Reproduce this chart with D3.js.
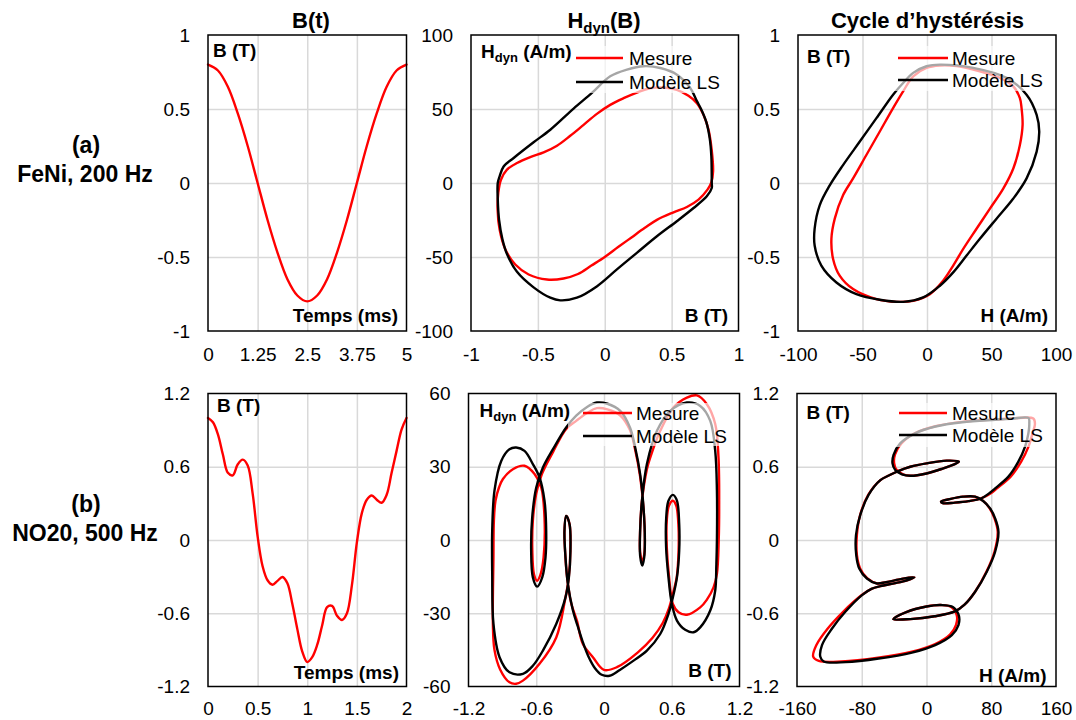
<!DOCTYPE html>
<html><head><meta charset="utf-8">
<script src="https://cdn.jsdelivr.net/npm/d3@7/dist/d3.min.js"></script>
<style>html,body{margin:0;padding:0;background:#fff}svg{display:block}</style>
</head><body>
<svg id="c" width="1076" height="720"></svg>
<script>
// ================= DATA =================
// (a) FeNi, 200 Hz
const feTime = [0,0.25,0.5,0.75,1,1.25,1.5,1.75,2,2.25,2.5,2.75,3,3.25,3.5,3.75,4,4.25,4.5,4.75,5];
const feB = [0.80,0.76,0.65,0.47,0.25,0.00,-0.25,-0.47,-0.65,-0.76,-0.80,-0.76,-0.65,-0.47,-0.25,0.00,0.25,0.47,0.65,0.76,0.80];
// H_dyn(B): [B (T), H (A/m)]
const feHdynMesure = [[0.81,8],[0.80,22],[0.776,36],[0.738,46.1],[0.689,53.9],[0.626,58.9],[0.539,62.9],[0.44,64.5],[0.34,64],[0.24,61.1],[0.141,57.3],[0.041,52.8],[-0.059,46.7],[-0.158,39.3],[-0.258,31.9],[-0.357,25.2],[-0.457,20.7],[-0.557,17.5],[-0.656,13.5],[-0.731,9],[-0.776,2.2],[-0.796,-6.7],[-0.801,-18],[-0.786,-31.5],[-0.743,-44.9],[-0.669,-55.1],[-0.569,-61.8],[-0.432,-65.2],[-0.308,-64.5],[-0.2,-61.5],[-0.1,-55.8],[0.0,-50],[0.1,-43.3],[0.2,-36.8],[0.3,-30.3],[0.39,-24.9],[0.514,-19.8],[0.614,-16.2],[0.701,-11.2],[0.768,-4.5],[0.797,0.5]];
const feHdynModele = [[0.80,0],[0.797,18],[0.785,30],[0.76,41],[0.72,50],[0.689,55.3],[0.639,64.2],[0.54,73.2],[0.415,77.7],[0.29,78.9],[0.166,76.6],[0.041,72.1],[-0.096,60.9],[-0.233,50.3],[-0.407,36],[-0.532,27.5],[-0.681,16.9],[-0.756,11.2],[-0.786,4.5],[-0.80,0],[-0.80,-11],[-0.79,-25],[-0.765,-38],[-0.731,-48],[-0.656,-60],[-0.532,-70.5],[-0.407,-77.5],[-0.333,-79.3],[-0.208,-77.5],[-0.057,-69.7],[0.091,-58.4],[0.24,-47.2],[0.39,-36],[0.539,-25.8],[0.664,-16.9],[0.763,-9],[0.80,-3.4]];
// Cycle d'hystérésis: [H (A/m), B (T)]
const feCycleMesure = [[10,0.794],[22.9,0.79],[35.8,0.767],[56.5,0.71],[66.9,0.653],[72,0.574],[73.3,0.506],[74.1,0.393],[72,0.257],[66.9,0.098],[59.1,-0.038],[48.8,-0.173],[38.4,-0.309],[28.1,-0.445],[20.3,-0.558],[12.5,-0.66],[2.2,-0.751],[-10.7,-0.796],[-23.7,-0.803],[-39.2,-0.785],[-57.3,-0.717],[-67.7,-0.626],[-72.8,-0.513],[-74.1,-0.377],[-71.5,-0.241],[-65.1,-0.083],[-57.3,0.031],[-47,0.189],[-36.6,0.348],[-26.3,0.506],[-18.5,0.619],[-10.7,0.721],[-0.4,0.778]];
const feCycleModele = [[10,0.80],[35.8,0.778],[61.7,0.71],[77.2,0.597],[85,0.461],[87,0.348],[85,0.212],[77.2,0.031],[66.9,-0.105],[53.9,-0.241],[41,-0.377],[30.7,-0.49],[20.3,-0.604],[10,-0.694],[-3,-0.773],[-18.5,-0.803],[-36.6,-0.789],[-54.7,-0.751],[-70.2,-0.672],[-81.9,-0.558],[-87.1,-0.422],[-87.1,-0.309],[-83.2,-0.151],[-75.4,-0.016],[-65.1,0.121],[-52.1,0.28],[-39.2,0.438],[-26.3,0.597],[-18.5,0.676],[-10.7,0.744],[-0.4,0.789]];

// (b) NO20, 500 Hz
const noTime = [0,0.05,0.1,0.15,0.2,0.25,0.3,0.35,0.4,0.45,0.5,0.55,0.6,0.65,0.7,0.75,0.8,0.85,0.9,0.95,1,1.05,1.1,1.15,1.2,1.25,1.3,1.35,1.4,1.45,1.5,1.55,1.6,1.65,1.7,1.75,1.8,1.85,1.9,1.95,2];
const noB = [1.00,0.965,0.865,0.70,0.55,0.53,0.62,0.658,0.61,0.38,0.03,-0.215,-0.33,-0.366,-0.335,-0.303,-0.355,-0.525,-0.73,-0.915,-1.00,-0.96,-0.86,-0.70,-0.55,-0.54,-0.62,-0.655,-0.60,-0.37,-0.02,0.22,0.33,0.365,0.33,0.305,0.37,0.55,0.73,0.905,1.00];
const noHdynMesure = [[1.016,0],[1.0,-13.9],[0.97,-19.4],[0.91,-24.5],[0.852,-27.6],[0.734,-30.6],[0.66,-29.6],[0.61,-26.2],[0.578,-16],[0.556,-3],[0.556,8],[0.575,14],[0.61,16.1],[0.64,14],[0.66,5],[0.66,-5],[0.645,-15],[0.61,-22],[0.575,-28],[0.52,-34],[0.43,-40],[0.30,-46],[0.114,-52.1],[0.0,-53.2],[-0.098,-48],[-0.187,-42.6],[-0.24,-33],[-0.29,-26],[-0.325,-16],[-0.343,-6],[-0.35,3.8],[-0.335,9.9],[-0.305,6.5],[-0.298,-4.4],[-0.312,-15.3],[-0.345,-24.5],[-0.423,-39.9],[-0.571,-50.7],[-0.718,-57.6],[-0.778,-58.9],[-0.837,-58.3],[-0.92,-53],[-0.97,-45],[-0.984,-34.4],[-0.979,-7.1],[-0.975,8],[-0.961,16.1],[-0.93,21.5],[-0.895,25],[-0.807,29],[-0.704,30.4],[-0.615,27],[-0.556,21.5],[-0.527,9.2],[-0.535,-7.1],[-0.565,-14.5],[-0.592,-16.7],[-0.62,-14],[-0.635,-4],[-0.63,8],[-0.6,19],[-0.55,27],[-0.452,36],[-0.335,45.5],[-0.246,48.8],[-0.15,52],[-0.063,54],[0.03,53.5],[0.144,51],[0.23,45],[0.276,37],[0.32,26],[0.35,13],[0.362,-0.3],[0.356,-6],[0.339,-9],[0.32,-5],[0.32,4],[0.336,16],[0.38,29],[0.41,33.8],[0.498,44.7],[0.616,54.3],[0.734,58.3],[0.823,59.2],[0.911,55.6],[0.985,47.5],[1.014,33.8],[1.02,13.3]];
const noHdynModele = [[1.00,0],[0.995,-10],[0.985,-20.7],[0.941,-28.9],[0.852,-35.8],[0.793,-37.8],[0.719,-36.8],[0.646,-33],[0.601,-26.2],[0.571,-15.3],[0.550,-3],[0.551,9.2],[0.571,16.1],[0.61,18.5],[0.646,16.1],[0.666,6.5],[0.666,-4.4],[0.646,-15.3],[0.61,-23.5],[0.571,-30.3],[0.498,-38.5],[0.38,-45.3],[0.262,-49.4],[0.14,-53.2],[0.05,-55.6],[-0.02,-55.2],[-0.08,-52.5],[-0.14,-47.5],[-0.19,-41.5],[-0.235,-35],[-0.275,-28.9],[-0.320,-18],[-0.341,-7.1],[-0.35,3.8],[-0.335,9.9],[-0.305,6.5],[-0.297,-4.4],[-0.311,-15.3],[-0.341,-23.5],[-0.423,-34.4],[-0.541,-45.3],[-0.63,-51.5],[-0.718,-54.8],[-0.837,-54.2],[-0.925,-48],[-0.979,-34.4],[-0.99,-13.9],[-0.99,3.8],[-0.97,20.2],[-0.91,32.4],[-0.837,37.2],[-0.778,37.9],[-0.704,36.5],[-0.630,31.1],[-0.571,25.6],[-0.527,16.1],[-0.512,3.8],[-0.518,-7.1],[-0.547,-15.3],[-0.592,-19.1],[-0.630,-15.3],[-0.645,-4.4],[-0.636,9.2],[-0.6,21.5],[-0.541,29.7],[-0.452,37.2],[-0.335,46.1],[-0.246,50.9],[-0.15,54.5],[-0.063,56.3],[0.03,55.8],[0.144,52.9],[0.23,46.1],[0.276,37.9],[0.32,27],[0.35,13.3],[0.362,-0.3],[0.356,-7.1],[0.339,-10.5],[0.32,-6.4],[0.32,3.8],[0.336,16.1],[0.38,31.1],[0.469,44.7],[0.587,52.9],[0.734,56.3],[0.852,54.9],[0.941,48.8],[0.985,36.5],[1.0,20.2]];
const noCycleMesure = [[132,0.995],[105,0.995],[85,0.988],[44,0.968],[11,0.932],[-14,0.876],[-31,0.79],[-39,0.70],[-40,0.63],[-37,0.575],[-29,0.538],[-20,0.526],[0,0.545],[20,0.585],[35,0.622],[40,0.642],[25,0.65],[0,0.628],[-20,0.6],[-35,0.565],[-46,0.53],[-57,0.49],[-72,0.369],[-82,0.205],[-86,0.041],[-86,-0.123],[-82,-0.233],[-73,-0.315],[-61,-0.356],[-50,-0.345],[-35,-0.325],[-22,-0.308],[-15,-0.306],[-24,-0.33],[-40,-0.355],[-57,-0.378],[-68,-0.4],[-80,-0.451],[-103,-0.588],[-122,-0.725],[-136,-0.86],[-140,-0.955],[-133,-0.99],[-105,-0.995],[-60,-0.965],[-18,-0.915],[10,-0.855],[29,-0.775],[36.5,-0.695],[37.5,-0.62],[31,-0.55],[18,-0.533],[0,-0.545],[-25,-0.59],[-41,-0.648],[-20,-0.648],[10,-0.625],[35,-0.585],[47,-0.53],[60,-0.424],[74,-0.26],[84,-0.096],[88,0.068],[84,0.177],[78,0.259],[70,0.32],[60,0.355],[45,0.355],[30,0.337],[18,0.315],[20,0.302],[35,0.306],[52,0.318],[68,0.342],[80,0.385],[87,0.423],[104,0.519],[117,0.642],[126,0.765],[131,0.874],[134,0.95]];
const noCycleModele = [[126,1.0],[105,0.993],[85,0.985],[44,0.965],[11,0.93],[-14,0.874],[-32.5,0.792],[-40.7,0.697],[-42,0.628],[-38.6,0.574],[-30.4,0.538],[-20,0.526],[0,0.545],[20,0.585],[35,0.622],[40,0.642],[25,0.65],[0,0.628],[-20,0.6],[-35,0.565],[-46,0.53],[-57,0.49],[-71.6,0.369],[-81.8,0.205],[-87.1,0.041],[-86.8,-0.123],[-83.1,-0.233],[-73.6,-0.315],[-61.3,-0.356],[-50,-0.345],[-35,-0.325],[-22,-0.308],[-15,-0.306],[-24,-0.33],[-40,-0.355],[-57,-0.378],[-68,-0.4],[-79.7,-0.451],[-100.3,-0.588],[-116.7,-0.725],[-129.1,-0.861],[-131.2,-0.957],[-127,-0.995],[-100,-1.0],[-59,-0.971],[-18,-0.922],[10.7,-0.861],[31.3,-0.779],[39.5,-0.697],[40,-0.62],[33,-0.55],[18,-0.533],[0,-0.545],[-25,-0.59],[-41,-0.648],[-20,-0.648],[10,-0.625],[35,-0.585],[47,-0.53],[60.1,-0.424],[74.5,-0.26],[84.8,-0.096],[88.9,0.068],[84.8,0.177],[78.6,0.259],[70,0.32],[60,0.355],[45,0.355],[30,0.337],[18,0.315],[20,0.302],[35,0.306],[52,0.318],[68,0.342],[78,0.385],[84.8,0.423],[101.2,0.519],[113.5,0.642],[121.8,0.765],[125.9,0.874],[127,0.956]];

// Tick values and labels
const feTimeTicks = [0,1.25,2.5,3.75,5], feTimeLabels = ["0","1.25","2.5","3.75","5"];
const feBTicks = [-1,-0.5,0,0.5,1], feBLabels = ["-1","-0.5","0","0.5","1"];
const feHTicks = [-100,-50,0,50,100], feHLabels = ["-100","-50","0","50","100"];
const noTimeTicks = [0,0.5,1,1.5,2], noTimeLabels = ["0","0.5","1","1.5","2"];
const noBTicks = [-1.2,-0.6,0,0.6,1.2], noBLabels = ["-1.2","-0.6","0","0.6","1.2"];
const noHdynTicks = [-60,-30,0,30,60], noHdynLabels = ["-60","-30","0","30","60"];
const noHTicks = [-160,-80,0,80,160], noHLabels = ["-160","-80","0","80","160"];

const legendNames = ["Mesure","Modèle LS"];
const titles = ["B(t)","H_dyn(B)","Cycle d’hystérésis"];
const rowNames = [["(a)","FeNi, 200 Hz"],["(b)","NO20, 500 Hz"]];

// ================= DRAW =================
const RED = "#ff0000", BLK = "#000000", GRID = "#d9d9d9";
const FONT = "'Liberation Sans', Arial, Helvetica, sans-serif";
const svg = d3.select("#c").attr("font-family", FONT);
const zip = (a, b) => a.map((v, i) => [v, b[i]]);

function hdynText(sel, size, subSize, rest) {
  sel.append("tspan").text("H");
  sel.append("tspan").attr("font-size", subSize).attr("dy", size * 0.22).text("dyn");
  sel.append("tspan").attr("dy", -size * 0.22).text(rest);
}

function panel(c) {
  const x = d3.scaleLinear().domain([c.xt[0], c.xt[c.xt.length - 1]]).range([c.L, c.R]);
  const y = d3.scaleLinear().domain([c.yt[0], c.yt[c.yt.length - 1]]).range([c.B, c.T]);
  const g = svg.append("g");
  // grid
  const gx = g.append("g").attr("transform", `translate(0,${c.B})`)
    .call(d3.axisBottom(x).tickValues(c.xt.slice(1, -1)).tickSize(-(c.B - c.T)).tickFormat(""));
  gx.select(".domain").remove();
  gx.selectAll("line").attr("stroke", GRID).attr("stroke-width", 1.5);
  const gy = g.append("g").attr("transform", `translate(${c.L},0)`)
    .call(d3.axisLeft(y).tickValues(c.yt.slice(1, -1)).tickSize(-(c.R - c.L)).tickFormat(""));
  gy.select(".domain").remove();
  gy.selectAll("line").attr("stroke", GRID).attr("stroke-width", 1.5);
  // series
  c.series.forEach(s => {
    const line = d3.line().x(d => x(d[0])).y(d => y(d[1]))
      .curve(s.closed ? d3.curveCatmullRomClosed.alpha(0.5) : d3.curveCatmullRom.alpha(0.5));
    g.append("path").attr("d", line(s.data)).attr("fill", "none")
      .attr("stroke", s.color).attr("stroke-width", 2.4)
      .attr("stroke-linejoin", "round").attr("stroke-linecap", "round");
  });
  // legend
  if (c.legend) {
    const L = c.legend;
    g.append("rect").attr("x", L.bx).attr("y", L.by).attr("width", L.bw).attr("height", L.bh)
      .attr("fill", "#fff").attr("fill-opacity", 0.65);
    [RED, BLK].forEach((col, i) => {
      g.append("line").attr("x1", L.lx0).attr("x2", L.lx1).attr("y1", L.ly[i]).attr("y2", L.ly[i])
        .attr("stroke", col).attr("stroke-width", 2.4);
      g.append("text").attr("x", L.tx).attr("y", L.ly[i] + 6.5).attr("font-size", 19)
        .attr("fill", "#000").text(legendNames[i]);
    });
  }
  // frame
  g.append("rect").attr("x", c.L).attr("y", c.T).attr("width", c.R - c.L).attr("height", c.B - c.T)
    .attr("fill", "none").attr("stroke", "#000").attr("stroke-width", 1.5);
  // axes
  const ax = g.append("g").attr("transform", `translate(0,${c.B})`)
    .call(d3.axisBottom(x).tickValues(c.xt).tickFormat((d, i) => c.xl[i]).tickSize(0).tickPadding(c.xpad));
  ax.select(".domain").remove();
  ax.attr("font-size", 19).attr("font-family", FONT);
  ax.selectAll("text").attr("fill", "#000");
  const ay = g.append("g").attr("transform", `translate(${c.L},0)`)
    .call(d3.axisLeft(y).tickValues(c.yt).tickFormat((d, i) => c.yl[i]).tickSize(0).tickPadding(18));
  ay.select(".domain").remove();
  ay.attr("font-size", 19).attr("font-family", FONT);
  ay.selectAll("text").attr("fill", "#000");
  // inner labels
  const tl = g.append("text").attr("x", c.tl.x).attr("y", c.tl.y).attr("font-size", 19).attr("font-weight", "bold");
  if (c.tl.hdyn) hdynText(tl, 19, 13, " (A/m)"); else tl.text(c.tl.t);
  g.append("text").attr("x", c.br.x).attr("y", c.br.y).attr("font-size", 19).attr("font-weight", "bold")
    .attr("text-anchor", "end").text(c.br.t);
}

// Row (a)
panel({L:208, R:406.5, T:35, B:331, xt:feTimeTicks, xl:feTimeLabels, yt:feBTicks, yl:feBLabels, xpad:16.5,
  series:[{data:zip(feTime, feB), color:RED}],
  tl:{x:213, y:56.5, t:"B (T)"}, br:{x:398, y:322, t:"Temps (ms)"}});
panel({L:471, R:738.5, T:35, B:331, xt:feBTicks, xl:feBLabels, yt:feHTicks, yl:feHLabels, xpad:16.5,
  series:[{data:feHdynMesure, color:RED, closed:true},{data:feHdynModele, color:BLK, closed:true}],
  legend:{bx:572, by:46, bw:164, bh:47, lx0:576, lx1:623, ly:[58,82], tx:629},
  tl:{x:481, y:58, hdyn:true}, br:{x:728, y:322, t:"B (T)"}});
panel({L:798, R:1056, T:35, B:331, xt:feHTicks, xl:feHLabels, yt:feBTicks, yl:feBLabels, xpad:16.5,
  series:[{data:feCycleMesure, color:RED, closed:true},{data:feCycleModele, color:BLK, closed:true}],
  legend:{bx:894, by:46, bw:158, bh:45, lx0:898, lx1:948, ly:[58,80], tx:952},
  tl:{x:807, y:62.5, t:"B (T)"}, br:{x:1048, y:322, t:"H (A/m)"}});

// Row (b)
panel({L:208, R:406.5, T:393.5, B:686.5, xt:noTimeTicks, xl:noTimeLabels, yt:noBTicks, yl:noBLabels, xpad:15.5,
  series:[{data:zip(noTime, noB), color:RED}],
  tl:{x:217, y:412, t:"B (T)"}, br:{x:399, y:679, t:"Temps (ms)"}});
panel({L:468.5, R:739.5, T:393.5, B:686.5, xt:noBTicks, xl:noBLabels, yt:noHdynTicks, yl:noHdynLabels, xpad:15.5,
  series:[{data:noHdynMesure, color:RED, closed:true},{data:noHdynModele, color:BLK, closed:true}],
  legend:{bx:568, by:403, bw:167, bh:43, lx0:583, lx1:632, ly:[413,436], tx:636},
  tl:{x:479.5, y:416.5, hdyn:true}, br:{x:731.5, y:677, t:"B (T)"}});
panel({L:797, R:1056, T:393.5, B:686.5, xt:noHTicks, xl:noHLabels, yt:noBTicks, yl:noBLabels, xpad:15.5,
  series:[{data:noCycleMesure, color:RED, closed:true},{data:noCycleModele, color:BLK, closed:true}],
  legend:{bx:895, by:403, bw:157, bh:44, lx0:899, lx1:947, ly:[413,435], tx:952},
  tl:{x:806.5, y:418.5, t:"B (T)"}, br:{x:1046.5, y:682, t:"H (A/m)"}});

// Column titles
svg.append("text").attr("x", 311).attr("y", 28).attr("text-anchor", "middle")
  .attr("font-size", 22).attr("font-weight", "bold").text(titles[0]);
const t2 = svg.append("text").attr("x", 604).attr("y", 28).attr("text-anchor", "middle")
  .attr("font-size", 22).attr("font-weight", "bold");
hdynText(t2, 22, 15, "(B)");
svg.append("text").attr("x", 927.5).attr("y", 28).attr("text-anchor", "middle")
  .attr("font-size", 22).attr("font-weight", "bold").text(titles[2]);

// Row labels
[[153, 182], [512, 541]].forEach((ys, r) => {
  svg.append("text").attr("x", 86).attr("y", ys[0]).attr("text-anchor", "middle")
    .attr("font-size", 23).attr("font-weight", "bold").text(rowNames[r][0]);
  svg.append("text").attr("x", 85).attr("y", ys[1]).attr("text-anchor", "middle")
    .attr("font-size", 23).attr("font-weight", "bold").text(rowNames[r][1]);
});
</script>
</body></html>
